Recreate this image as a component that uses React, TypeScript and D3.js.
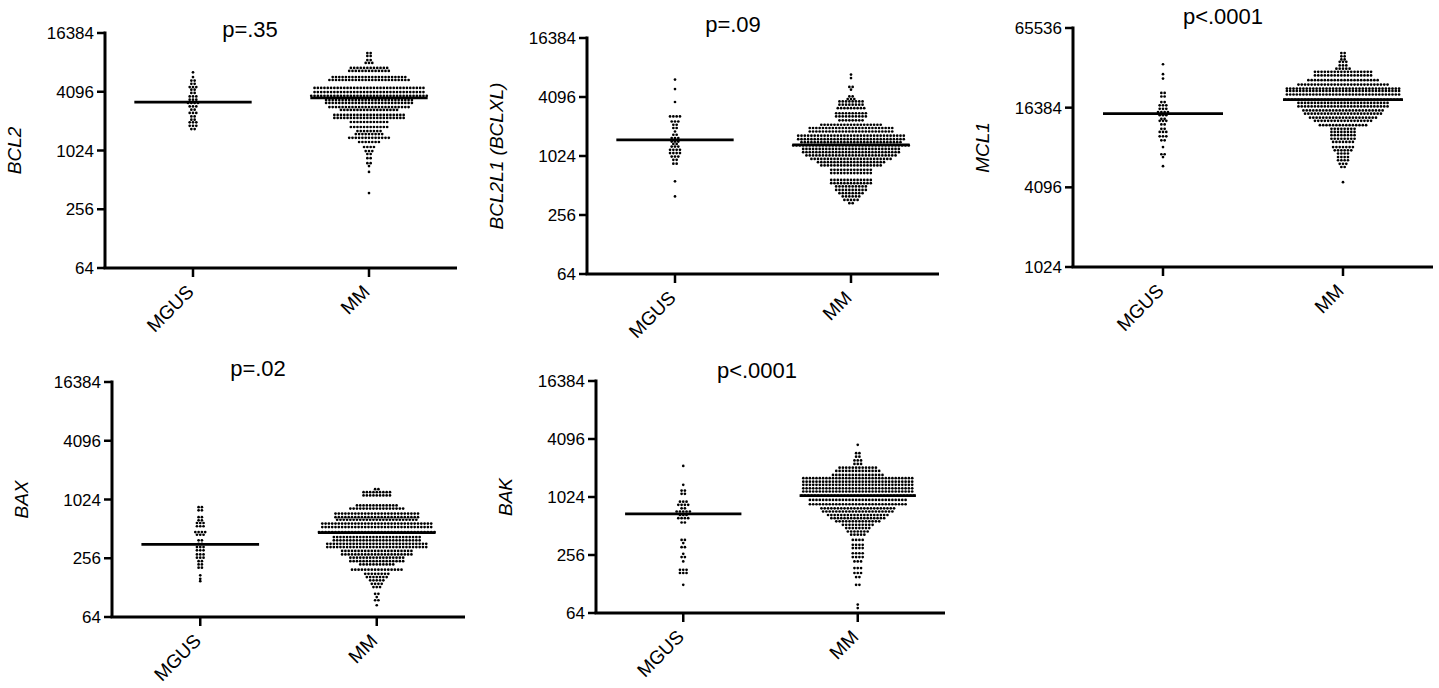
import React from "react";
import * as d3 from "d3";

// Categories
const groups = ["MGUS", "MM"];

// Tick labels
const ticksStd = [64, 256, 1024, 4096, 16384];
const ticksMcl1 = [1024, 4096, 16384, 65536];

// Each row: [log2 expression level, number of samples drawn at that level]
const bcl2MGUS: [number, number][] = [
  [12.66, 1], [12.5, 1], [12.38, 2], [12.27, 2], [12.16, 3], [12.07, 2], [11.96, 2], [11.84, 3], [11.73, 3],
  [11.62, 4], [11.5, 3], [11.39, 2], [11.28, 3], [11.16, 2], [11.05, 2], [10.96, 3], [10.84, 3], [10.73, 2],
];
const bcl2MM: [number, number][] = [
  [13.32, 2], [13.22, 2], [13.08, 2], [12.98, 3], [12.81, 12], [12.71, 13], [12.5, 23], [12.4, 25], [12.13, 34],
  [11.99, 34], [11.86, 36], [11.72, 27], [11.62, 27], [11.48, 25], [11.38, 18], [11.21, 22], [11.11, 22],
  [10.97, 12], [10.8, 12], [10.66, 8], [10.56, 9], [10.43, 13], [10.29, 7], [10.12, 4], [9.98, 3], [9.88, 2],
  [9.74, 2], [9.57, 2], [9.47, 1], [9.27, 1], [8.55, 1],
];
const bcl2Median = [11.65, 11.79];

const bcl2l1MGUS: [number, number][] = [
  [12.59, 1], [12.27, 1], [11.83, 1], [11.34, 4], [11.17, 3], [11.06, 2], [10.95, 2], [10.83, 1], [10.72, 2],
  [10.61, 3], [10.49, 3], [10.41, 2], [10.32, 3], [10.21, 4], [10.1, 4], [9.98, 3], [9.87, 2], [9.74, 2],
  [9.14, 1], [8.63, 1],
];
const bcl2l1MM: [number, number][] = [
  [12.76, 1], [12.64, 1], [12.34, 2], [12.25, 1], [12.02, 2], [11.93, 3], [11.85, 8], [11.74, 8], [11.62, 9],
  [11.45, 10], [11.34, 10], [11.21, 8], [11.06, 19], [10.95, 26], [10.83, 26], [10.69, 33], [10.57, 33],
  [10.47, 31], [10.36, 36], [10.24, 30], [10.13, 30], [10.02, 28], [9.9, 25], [9.79, 21], [9.68, 19],
  [9.53, 13], [9.42, 13], [9.19, 13], [9.08, 13], [8.97, 10], [8.85, 10], [8.74, 8], [8.63, 6], [8.51, 5],
  [8.4, 2],
];
const bcl2l1Median = [10.55, 10.38];

const mcl1MGUS: [number, number][] = [
  [15.09, 1], [14.84, 1], [14.73, 1], [14.37, 2], [14.28, 2], [14.14, 2], [14.06, 3], [13.97, 3], [13.89, 4],
  [13.81, 3], [13.72, 2], [13.67, 3], [13.58, 2], [13.47, 2], [13.39, 3], [13.28, 3], [13.18, 2], [13.01, 1],
  [12.83, 2], [12.76, 1], [12.53, 1],
];
const mcl1MM: [number, number][] = [
  [15.37, 2], [15.29, 2], [15.21, 2], [15.15, 3], [15.06, 3], [14.98, 5], [14.9, 18], [14.81, 18], [14.69, 22],
  [14.58, 28], [14.48, 35], [14.42, 35], [14.33, 35], [14.2, 36], [14.12, 28], [14.03, 28], [13.93, 25],
  [13.85, 24], [13.75, 21], [13.67, 18], [13.56, 15], [13.47, 8], [13.39, 8], [13.31, 8], [13.22, 8],
  [13.14, 7], [13.01, 7], [12.93, 6], [12.85, 4], [12.76, 4], [12.68, 4], [12.59, 3], [12.51, 2], [12.13, 1],
];
const mcl1Median = [13.85, 14.2];

const baxMGUS: [number, number][] = [
  [9.74, 2], [9.63, 2], [9.4, 2], [9.29, 2], [9.2, 3], [9.09, 3], [8.89, 4], [8.8, 3], [8.61, 2], [8.49, 2],
  [8.38, 3], [8.27, 3], [8.13, 3], [8.02, 3], [7.9, 2], [7.79, 2], [7.68, 2], [7.42, 1], [7.3, 1], [7.22, 1],
];
const baxMM: [number, number][] = [
  [10.35, 2], [10.25, 9], [10.14, 9], [9.8, 13], [9.69, 17], [9.52, 26], [9.4, 26], [9.31, 25], [9.18, 34],
  [9.06, 34], [8.89, 36], [8.72, 27], [8.61, 27], [8.49, 31], [8.38, 31], [8.25, 22], [8.13, 22], [8.02, 17],
  [7.9, 17], [7.79, 11], [7.61, 16], [7.47, 8], [7.36, 7], [7.25, 5], [7.13, 4], [7.02, 3], [6.79, 2],
  [6.68, 1], [6.57, 2], [6.4, 1],
];
const baxMedian = [8.47, 8.87];

const bakMGUS: [number, number][] = [
  [11.07, 1], [10.42, 1], [10.22, 2], [10.11, 2], [9.84, 3], [9.73, 4], [9.61, 2], [9.5, 5], [9.38, 3],
  [9.27, 4], [9.12, 2], [8.52, 2], [8.41, 1], [8.27, 2], [8.04, 1], [7.93, 2], [7.78, 1], [7.49, 3], [7.38, 3],
  [6.97, 1],
];
const bakMM: [number, number][] = [
  [11.8, 1], [11.51, 2], [11.39, 2], [11.26, 3], [11.14, 3], [11.01, 12], [10.9, 14], [10.76, 16], [10.65, 34],
  [10.53, 34], [10.42, 34], [10.3, 34], [10.19, 34], [10.05, 35], [9.9, 30], [9.75, 30], [9.61, 23], [9.5, 22],
  [9.38, 19], [9.27, 17], [9.16, 14], [9.04, 10], [8.93, 8], [8.81, 7], [8.7, 5], [8.52, 4], [8.35, 4],
  [8.24, 4], [8.06, 4], [7.93, 4], [7.78, 3], [7.55, 3], [7.38, 3], [7.24, 2], [6.97, 2], [6.29, 1], [6.17, 1],
];
const bakMedian = [9.42, 10.05];

const genes = ["BCL2", "BCL2L1 (BCLXL)", "MCL1", "BAX", "BAK"];
const pValues = ["p=.35", "p=.09", "p<.0001", "p=.02", "p<.0001"];

// Layout (page pixels)
const layouts = [
  { x0: 105, x1: 457, yTop: 33, yBot: 268, titleX: 250, titleY: 37 },
  { x0: 587, x1: 939, yTop: 38, yBot: 274, titleX: 733, titleY: 32 },
  { x0: 1073, x1: 1433, yTop: 28, yBot: 267, titleX: 1223, titleY: 24 },
  { x0: 112, x1: 465, yTop: 382, yBot: 617, titleX: 258, titleY: 376 },
  { x0: 596, x1: 945, yTop: 381, yBot: 613, titleX: 757, titleY: 378 },
];

const panels = [
  { gene: genes[0], p: pValues[0], ticks: ticksStd, data: [bcl2MGUS, bcl2MM], med: bcl2Median },
  { gene: genes[1], p: pValues[1], ticks: ticksStd, data: [bcl2l1MGUS, bcl2l1MM], med: bcl2l1Median },
  { gene: genes[2], p: pValues[2], ticks: ticksMcl1, data: [mcl1MGUS, mcl1MM], med: mcl1Median },
  { gene: genes[3], p: pValues[3], ticks: ticksStd, data: [baxMGUS, baxMM], med: baxMedian },
  { gene: genes[4], p: pValues[4], ticks: ticksStd, data: [bakMGUS, bakMM], med: bakMedian },
];

const FONT = "Arial, 'Liberation Sans', Helvetica, sans-serif";
const PITCH = 3.3;

function Panel({ panel, layout }: { panel: (typeof panels)[number]; layout: (typeof layouts)[number] }) {
  const { x0, x1, yTop, yBot, titleX, titleY } = layout;
  const ticks = panel.ticks;
  const y = d3
    .scaleLog()
    .base(2)
    .domain([ticks[0], ticks[ticks.length - 1]])
    .range([yBot, yTop]);
  const x = d3.scalePoint<string>().domain(groups).range([x0, x1]).padding(0.5);
  const half = x.step() / 3;

  const dots: { cx: number; cy: number }[] = [];
  groups.forEach((g, gi) => {
    const cx0 = x(g)!;
    panel.data[gi].forEach(([lv, n]) => {
      const cy = y(Math.pow(2, lv));
      for (let i = 0; i < n; i++) {
        dots.push({ cx: cx0 + (i - (n - 1) / 2) * PITCH, cy });
      }
    });
  });

  return (
    <g>
      <text x={titleX} y={titleY} textAnchor="middle" fontSize={22} fontFamily={FONT} fill="#000">
        {panel.p}
      </text>
      <text
        transform={`translate(${x0 - 84},${(yTop + yBot) / 2}) rotate(-90)`}
        textAnchor="middle"
        fontSize={19}
        fontStyle="italic"
        fontFamily={FONT}
        fill="#000"
      >
        {panel.gene}
      </text>
      {dots.map((d, i) => (
        <circle key={i} cx={d.cx} cy={d.cy} r={1.35} fill="#000" />
      ))}
      {groups.map((g, gi) => {
        const cy = y(Math.pow(2, panel.med[gi]));
        return (
          <line key={g} x1={x(g)! - half} x2={x(g)! + half} y1={cy} y2={cy} stroke="#000" strokeWidth={2.8} />
        );
      })}
      <line x1={x0} x2={x0} y1={yTop - 1.5} y2={yBot} stroke="#000" strokeWidth={3} />
      <line x1={x0 - 1.5} x2={x1} y1={yBot} y2={yBot} stroke="#000" strokeWidth={3} />
      {ticks.map((t) => (
        <g key={t}>
          <line x1={x0 - 8} x2={x0} y1={y(t)} y2={y(t)} stroke="#000" strokeWidth={2.5} />
          <text
            x={x0 - 11}
            y={y(t)}
            dy="0.36em"
            textAnchor="end"
            fontSize={17}
            fontFamily={FONT}
            fill="#000"
          >
            {t}
          </text>
        </g>
      ))}
      {groups.map((g) => (
        <g key={g}>
          <line x1={x(g)!} x2={x(g)!} y1={yBot} y2={yBot + 9} stroke="#000" strokeWidth={2.5} />
          <text
            transform={`translate(${x(g)! + 2},${yBot + 25}) rotate(-45)`}
            textAnchor="end"
            fontSize={19}
            fontFamily={FONT}
            fill="#000"
          >
            {g}
          </text>
        </g>
      ))}
    </g>
  );
}

export default function App() {
  return (
    <svg
      width={1439}
      height={688}
      viewBox="0 0 1439 688"
      style={{ position: "absolute", left: 0, top: 0, background: "#fff" }}
    >
      <rect x={0} y={0} width={1439} height={688} fill="#fff" />
      {panels.map((p, i) => (
        <Panel key={i} panel={p} layout={layouts[i]} />
      ))}
    </svg>
  );
}
